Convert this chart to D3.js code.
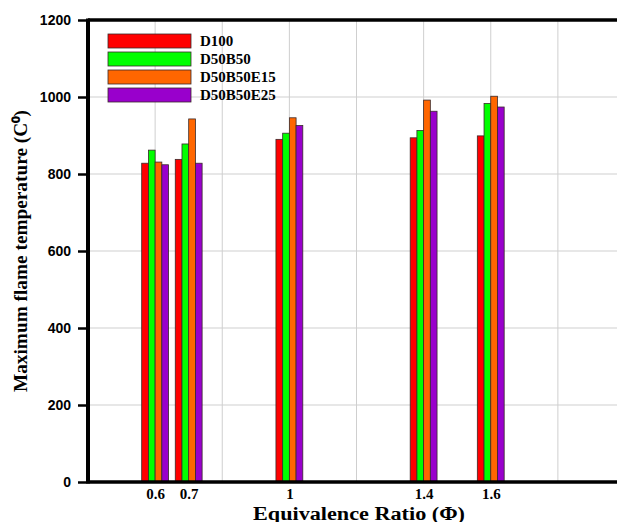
<!DOCTYPE html>
<html><head><meta charset="utf-8">
<script src="https://cdn.jsdelivr.net/npm/d3@7"></script>
<style>body{margin:0;background:#fff}svg{display:block}</style>
</head><body>
<svg id="c" width="617" height="522"></svg>
<script>
const categories = [0.6, 0.7, 1.0, 1.4, 1.6];
const tickLabels = ["0.6", "0.7", "1", "1.4", "1.6"];
const seriesNames = ["D100", "D50B50", "D50B50E15", "D50B50E25"];
const seriesColors = ["#ff0000", "#00ff00", "#ff6600", "#9900cc"];
const D100 = [828, 838, 890, 894, 899];
const D50B50 = [862, 878, 906, 913, 983];
const D50B50E15 = [831, 943, 946, 992, 1002];
const D50B50E25 = [824, 828, 926, 963, 974];
const series = [D100, D50B50, D50B50E15, D50B50E25];
const yTicks = [0, 200, 400, 600, 800, 1000, 1200];
const xGrid = [0.6, 0.8, 1.0, 1.2, 1.4, 1.6, 1.8];

const svg = d3.select("#c");
const L = 88, R = 625, T = 20, B = 482;
const x = d3.scaleLinear().domain([0.4, 2.0]).range([L, R]);
const y = d3.scaleLinear().domain([0, 1200]).range([B, T]);
const barW = 0.02;
const serif = "Liberation Serif, Times New Roman, serif";

// grid
svg.append("g").selectAll("line").data(yTicks.slice(1, -1)).join("line")
  .attr("x1", L).attr("x2", 617).attr("y1", d => y(d)).attr("y2", d => y(d))
  .attr("stroke", "#cfcfcf").attr("stroke-width", 1);
svg.append("g").selectAll("line").data(xGrid).join("line")
  .attr("x1", d => x(d)).attr("x2", d => x(d)).attr("y1", T).attr("y2", B)
  .attr("stroke", "#cfcfcf").attr("stroke-width", 1);

// bars
series.forEach((vals, si) => {
  svg.append("g").selectAll("rect").data(vals).join("rect")
    .attr("x", (d, i) => x(categories[i] + (si - 2) * barW))
    .attr("width", x(barW) - x(0))
    .attr("y", d => y(d))
    .attr("height", d => y(0) - y(d))
    .attr("fill", seriesColors[si])
    .attr("stroke", "#3a2a2a").attr("stroke-width", 0.8);
});

// axes
const yAxis = d3.axisLeft(y).tickValues(yTicks).tickFormat(d3.format("d")).tickSize(10).tickPadding(7);
const gy = svg.append("g").attr("transform", `translate(${L},0)`).call(yAxis);
gy.select(".domain").remove();
gy.selectAll(".tick line").attr("stroke", "#000").attr("stroke-width", 2.5);
gy.selectAll(".tick text").attr("font-family", "Liberation Sans, Arial, sans-serif")
  .attr("font-weight", "bold").attr("font-size", 14).attr("fill", "#000");

const xAxis = d3.axisBottom(x).tickValues(categories).tickFormat((d, i) => tickLabels[i]).tickSize(0).tickPadding(0);
const gx = svg.append("g").attr("transform", `translate(0,${B})`).call(xAxis);
gx.select(".domain").remove();
gx.selectAll(".tick text").attr("font-family", serif).attr("dy", null).attr("y", 17)
  .attr("font-weight", "bold").attr("font-size", 15).attr("fill", "#000");

// frame lines
svg.append("line").attr("x1", L).attr("x2", L).attr("y1", T - 1.5).attr("y2", B + 1.5).attr("stroke", "#000").attr("stroke-width", 4);
svg.append("line").attr("x1", L).attr("x2", 617).attr("y1", T).attr("y2", T).attr("stroke", "#000").attr("stroke-width", 3.5);
svg.append("line").attr("x1", L).attr("x2", 617).attr("y1", B).attr("y2", B).attr("stroke", "#000").attr("stroke-width", 3.5);

// legend
const lg = svg.append("g");
seriesNames.forEach((n, i) => {
  lg.append("rect").attr("x", 108).attr("y", 34 + i * 18).attr("width", 83).attr("height", 14)
    .attr("fill", seriesColors[i]).attr("stroke", "#3a2a2a").attr("stroke-width", 0.8);
  lg.append("text").attr("x", 200).attr("y", 45.5 + i * 18).text(n)
    .attr("font-family", serif).attr("font-weight", "bold")
    .attr("font-size", 15).attr("fill", "#000");
});

// titles
svg.append("text").attr("x", 253).attr("y", 519.5)
  .attr("font-family", serif).attr("font-weight", "bold")
  .attr("font-size", 18).attr("textLength", 212).attr("lengthAdjust", "spacingAndGlyphs")
  .text("Equivalence Ratio (Φ)");
svg.append("text").attr("transform", "translate(27,392) rotate(-90)")
  .attr("font-family", serif).attr("font-weight", "bold")
  .attr("font-size", 18).attr("textLength", 282).attr("lengthAdjust", "spacingAndGlyphs")
  .text("Maximum flame temperature (C⁰)");
</script>
</body></html>
